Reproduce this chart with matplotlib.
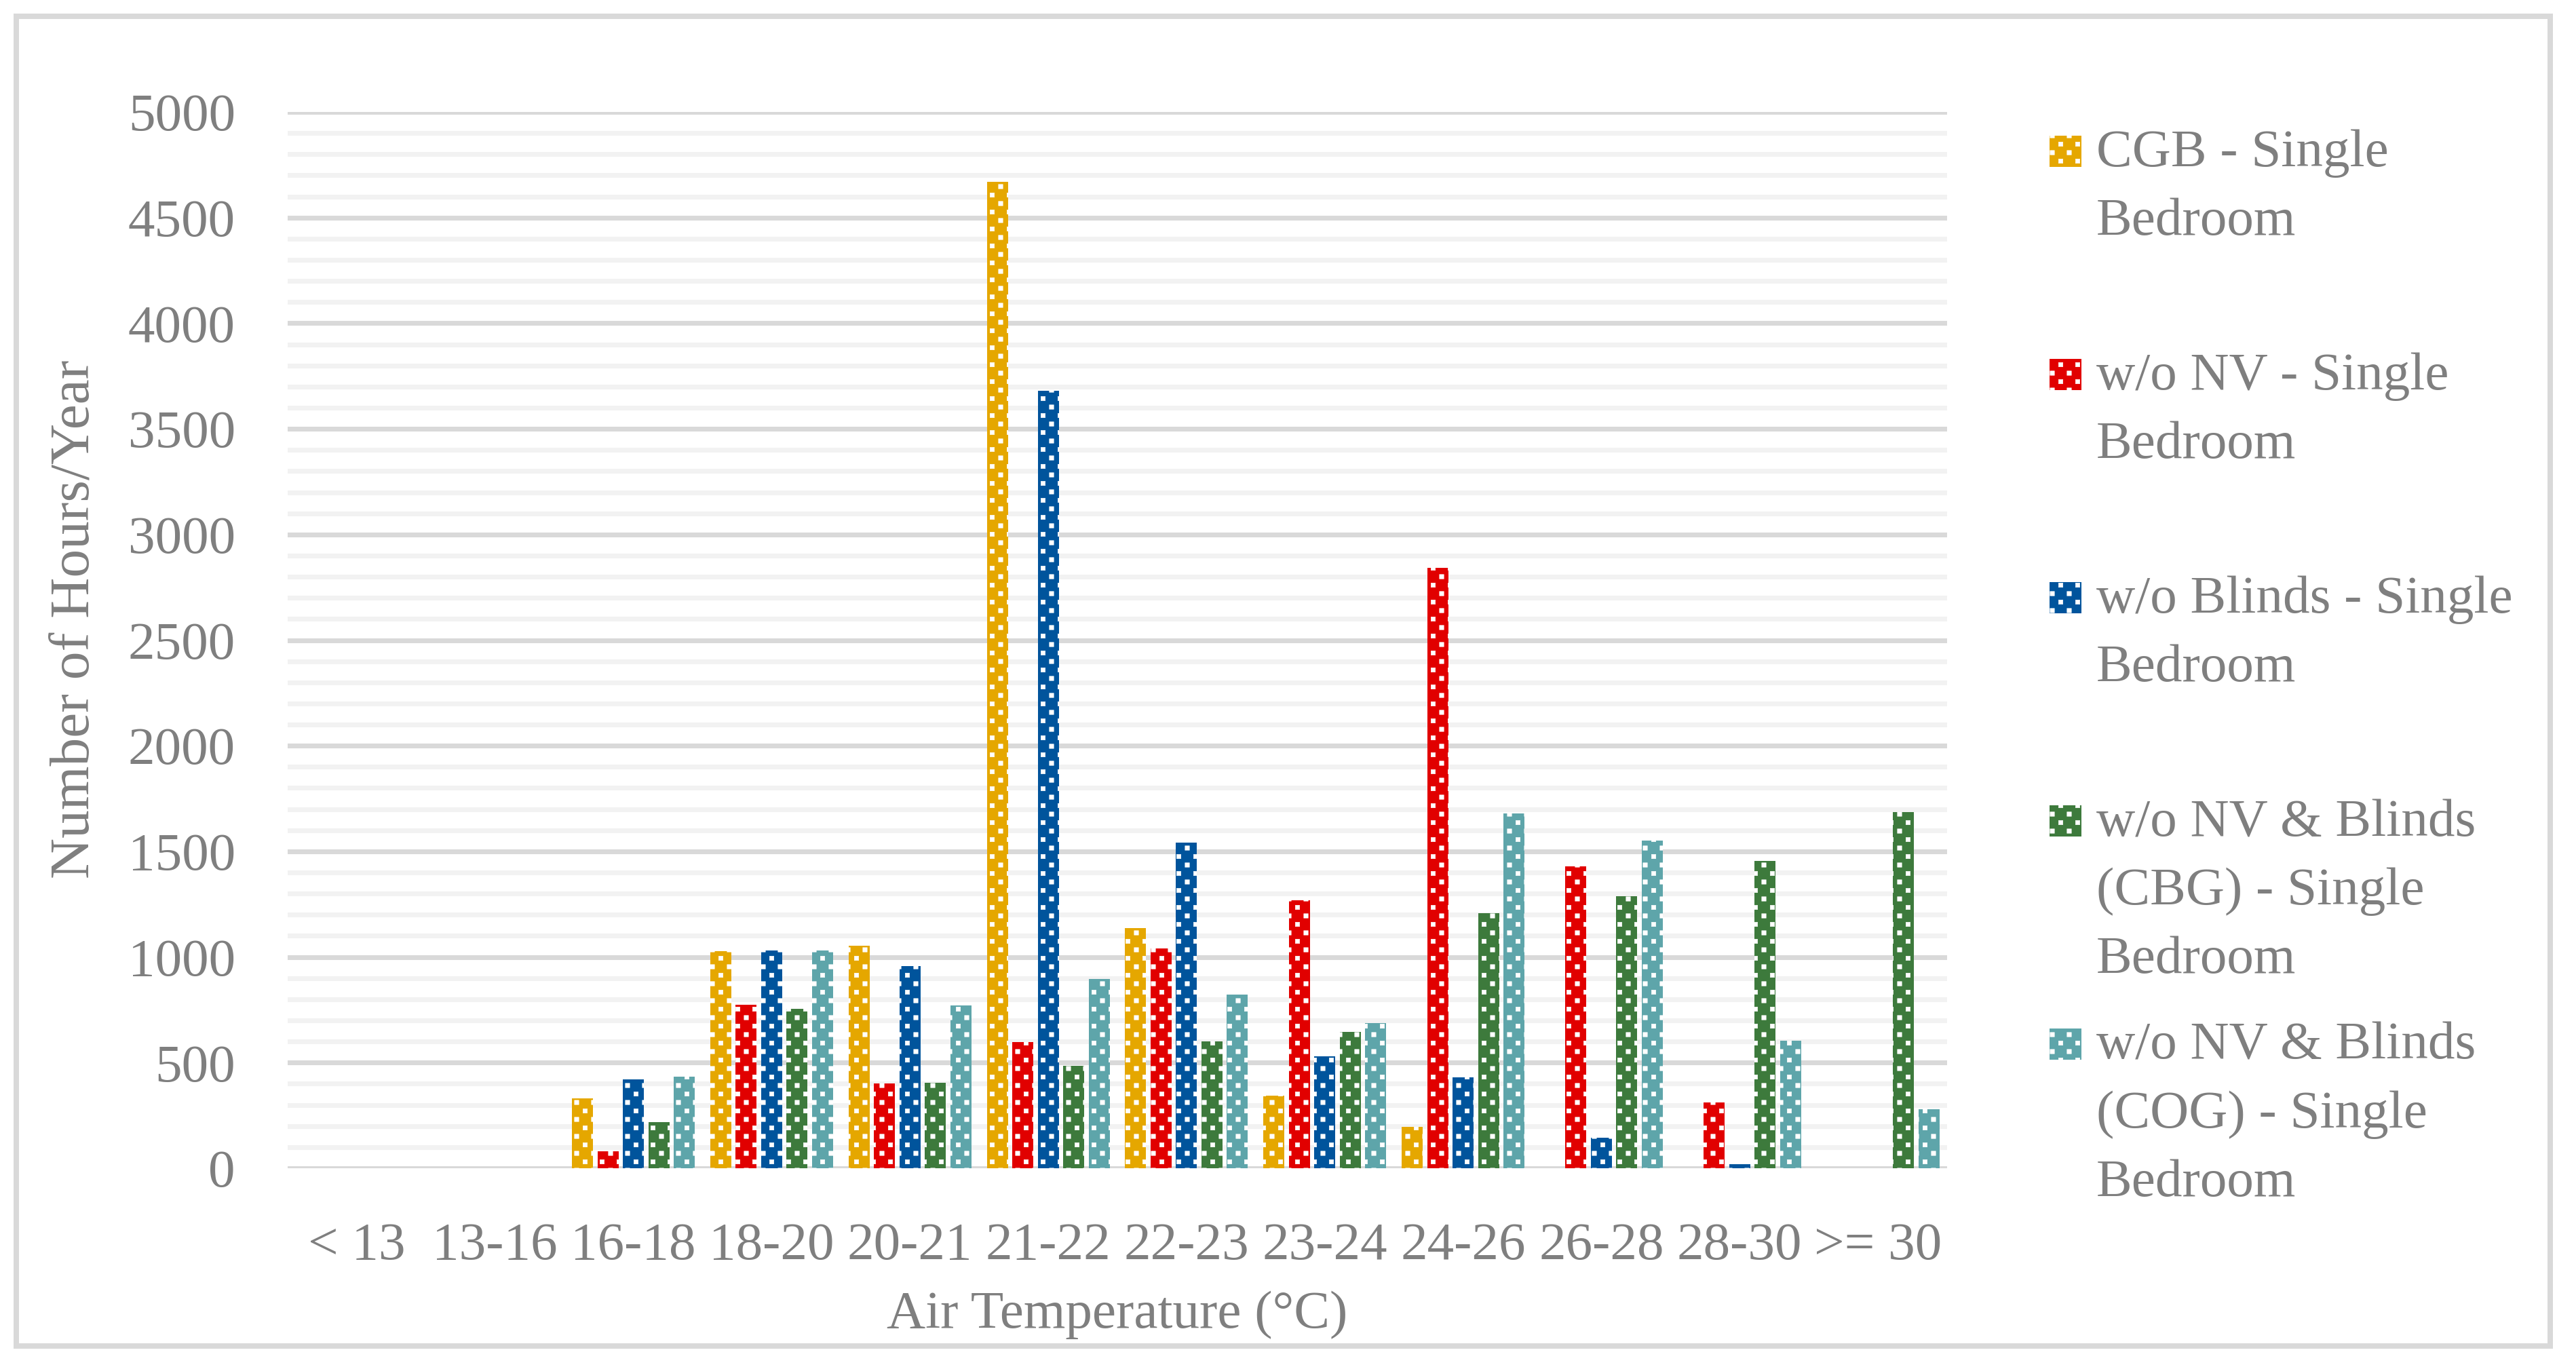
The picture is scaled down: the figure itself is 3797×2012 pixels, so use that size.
import textwrap
import numpy as np
import matplotlib
matplotlib.use('Agg')
import matplotlib.pyplot as plt
import matplotlib.hatch as mhatch
from matplotlib.path import Path
from matplotlib.patches import Rectangle

categories = ['< 13', '13-16', '16-18', '18-20', '20-21', '21-22',
              '22-23', '23-24', '24-26', '26-28', '28-30', '>= 30']
cgb = [0, 0, 332, 1028, 1053, 4670, 1137, 344, 196, 0, 0, 0]
no_nv = [0, 0, 81, 775, 402, 598, 1040, 1267, 2842, 1430, 312, 0]
no_blinds = [0, 0, 421, 1031, 957, 3680, 1541, 531, 430, 143, 20, 0]
no_nv_blinds_cbg = [0, 0, 219, 755, 406, 484, 600, 646, 1208, 1287, 1456, 1685]
no_nv_blinds_cog = [0, 0, 433, 1031, 770, 895, 822, 686, 1678, 1551, 605, 280]

series = [cgb, no_nv, no_blinds, no_nv_blinds_cbg, no_nv_blinds_cog]
names = ['CGB - Single Bedroom', 'w/o NV - Single Bedroom',
         'w/o Blinds - Single Bedroom',
         'w/o NV & Blinds (CBG) - Single Bedroom',
         'w/o NV & Blinds (COG) - Single Bedroom']
colors = ['#E5A700', '#E10000', '#00549C', '#3D7A3C', '#5EA5AA']

W, H, DPI = 3797, 2012, 300
grey = '#7F7F7F'


# office style dotted fill: square dots, staggered rows
class OfficeDots(mhatch.HatchPatternBase):
    cols = 12
    rows = 24
    half = 0.011

    def __init__(self, hatch, density):
        n = 0
        if '.' in hatch:
            n = sum(self.cols + 1 if i % 2 == 0 else self.cols for i in range(self.rows + 1))
        self.num_vertices = n * 5

    def set_vertices_and_codes(self, vertices, codes):
        k = 0
        h = self.half
        for i in range(self.rows + 1):
            y = i / self.rows
            if i % 2 == 0:
                xs = np.arange(self.cols + 1) / self.cols
            else:
                xs = (np.arange(self.cols) + 0.5) / self.cols
            for x in xs:
                vertices[k:k + 5] = [(x - h, y - h), (x + h, y - h), (x + h, y + h),
                                     (x - h, y + h), (x - h, y - h)]
                codes[k:k + 5] = [Path.MOVETO, Path.LINETO, Path.LINETO,
                                  Path.LINETO, Path.CLOSEPOLY]
                k += 5


mhatch._hatch_types[:] = [t for t in mhatch._hatch_types
                          if t is not mhatch.SmallFilledCircles] + [OfficeDots]

plt.rcParams['font.family'] = ['Liberation Serif', 'DejaVu Serif']
plt.rcParams['hatch.color'] = 'white'
plt.rcParams['hatch.linewidth'] = 0.1

fig = plt.figure(figsize=(W / DPI, H / DPI), dpi=DPI)
ax = fig.add_axes([424 / W, 1 - 1722 / H, (2870 - 424) / W, (1722 - 165) / H])

x = np.arange(len(categories))
bw = 0.152
step = 0.184
for i, (vals, c) in enumerate(zip(series, colors)):
    ax.bar(x + (i - 2) * step, vals, bw, color=c, edgecolor='white',
           linewidth=0, hatch='.', zorder=3)

ax.set_xlim(-0.5, len(categories) - 0.5)
ax.set_ylim(0, 5000)
ax.set_yticks(np.arange(0, 5001, 500))
ax.set_yticks(np.arange(0, 5001, 100), minor=True)
ax.grid(which='minor', axis='y', color='#F2F2F2', lw=1.7, zorder=0)
ax.grid(which='major', axis='y', color='#D9D9D9', lw=1.7, zorder=1)
ax.set_axisbelow(True)
for s in ax.spines.values():
    s.set_visible(False)
ax.set_xticks(x)
ax.set_xticklabels(categories)
ax.tick_params(axis='both', which='both', length=0, labelsize=19, labelcolor=grey)
ax.tick_params(axis='x', pad=19)
ax.tick_params(axis='y', pad=18.5)

fig.text(111 / W, 1 - 913 / H, 'Number of Hours/Year', rotation=90,
         ha='center', va='center', fontsize=20, color=grey)
fig.text(1647 / W, 1 - 1957 / H, 'Air Temperature (°C)', ha='center',
         va='baseline', fontsize=19, color=grey)

# legend drawn by hand so every entry gets the same slot height
for k, (name, c) in enumerate(zip(names, colors)):
    base = 245 + k * 329
    fig.add_artist(Rectangle((3021 / W, 1 - (base + 1) / H), 47 / W, 46 / H,
                             transform=fig.transFigure, facecolor=c,
                             edgecolor='white', linewidth=0, hatch='.'))
    for j, line in enumerate(textwrap.wrap(name, 19)):
        fig.text(3090 / W, 1 - (base + j * 101) / H, line, ha='left',
                 va='baseline', fontsize=19, color=grey)

fig.add_artist(Rectangle((24 / W, 1 - 1984 / H), (3759 - 24) / W, (1984 - 24) / H,
                         transform=fig.transFigure, fill=False,
                         edgecolor='#D9D9D9', linewidth=1.92))

fig.savefig('out.png', dpi=DPI)
